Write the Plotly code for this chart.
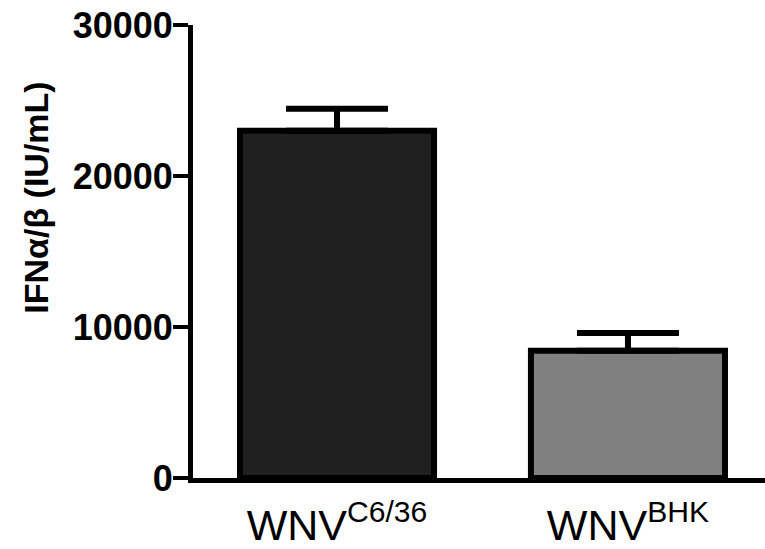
import plotly.graph_objects as go

categories = ["WNV<sup>C6/36</sup>", "WNV<sup>BHK</sup>"]
values = [23000, 8430]
errors = [1450, 1170]
fill_colors = ["#202020", "#808080"]
y_ticks = [0, 10000, 20000, 30000]

FONT = "Arial, Liberation Sans, sans-serif"

fig = go.Figure()
fig.add_trace(go.Bar(
    x=[0, 1],
    y=values,
    width=0.667,
    marker=dict(
        color=fill_colors,
        line=dict(color="black", width=6),
    ),
    error_y=dict(type="data", symmetric=False, array=errors,
                 arrayminus=[0, 0], color="black", thickness=6, width=51),
))

fig.update_layout(
    width=765, height=549,
    margin=dict(l=193, r=0, t=25, b=65),
    paper_bgcolor="white", plot_bgcolor="white",
    showlegend=False,
    xaxis=dict(
        range=[-0.495, 1.471],
        tickmode="array", tickvals=[0, 1], ticktext=categories,
        ticks="", showgrid=False, zeroline=False,
        showline=True, linecolor="black", linewidth=5,
        tickfont=dict(family=FONT, size=43, color="black"),
        ticklabelstandoff=5,
    ),
    yaxis=dict(
        range=[0, 30000],
        tickmode="array", tickvals=y_ticks,
        ticktext=[str(v) for v in y_ticks],
        ticks="outside", ticklen=15, tickwidth=4, tickcolor="black",
        showgrid=False, zeroline=False,
        showline=True, linecolor="black", linewidth=5,
        tickfont=dict(family=FONT, size=36, color="black", weight="bold"),
        ticklabelstandoff=-7,
    ),
    annotations=[dict(
        text="IFN\u03b1/\u03b2 (IU/mL)",
        xref="paper", yref="paper",
        x=-(193 - 36) / 572, y=(484 - 200) / 459,
        xanchor="center", yanchor="middle",
        textangle=-90, showarrow=False,
        font=dict(family=FONT, size=34, color="black", weight="bold"),
    )],
)

fig.write_html("out.html")
